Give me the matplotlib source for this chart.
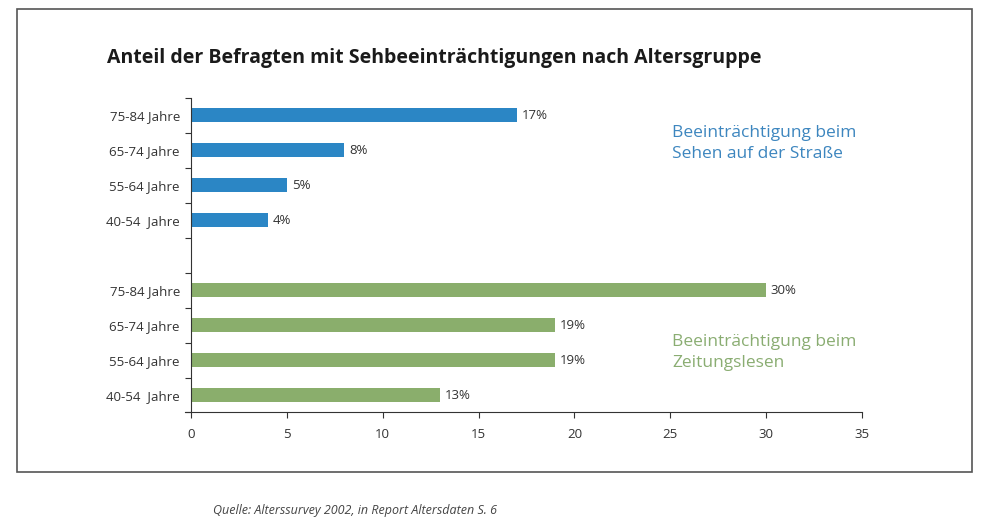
import numpy as np
import matplotlib.pyplot as plt
from matplotlib.patches import Rectangle

plt.rcParams['font.family'] = ['Open Sans', 'DejaVu Sans']

age_groups = ["75-84 Jahre", "65-74 Jahre", "55-64 Jahre", "40-54  Jahre"]
street = [17, 8, 5, 4]        # Beeinträchtigung beim Sehen auf der Straße
newspaper = [30, 19, 19, 13]  # Beeinträchtigung beim Zeitungslesen
x_ticks = [0, 5, 10, 15, 20, 25, 30, 35]

blue = "#2b86c5"
green = "#8aae6c"

fig = plt.figure(figsize=(10, 5.3), dpi=100)
ax = fig.add_axes([0.191, 0.2217, 0.671, 0.5943])

# slots 0-3 blue, 4 empty, 5-8 green
pos_blue = np.arange(4)
pos_green = np.arange(4) + 5
ax.barh(pos_blue, street, height=0.4, color=blue)
ax.barh(pos_green, newspaper, height=0.4, color=green)

for p, v in zip(pos_blue, street):
    ax.text(v + 0.25, p, f"{v}%", va="center", ha="left", fontsize=9.5, color="#333333")
for p, v in zip(pos_green, newspaper):
    ax.text(v + 0.25, p, f"{v}%", va="center", ha="left", fontsize=9.5, color="#333333")

ax.set_xlim(0, 35)
ax.set_ylim(8.5, -0.5)
ax.set_xticks(x_ticks)
ax.set_xticklabels([str(t) for t in x_ticks], fontsize=9.5, color="#333333")
ax.tick_params(axis="x", direction="out", length=4, width=0.8, pad=7, color="#333333")

ax.set_yticks(np.arange(-0.5, 9.0, 1.0))
ax.set_yticklabels([])
ax.tick_params(axis="y", which="major", direction="out", length=4, width=0.8, color="#333333")
ax.set_yticks(list(pos_blue) + list(pos_green), minor=True)
ax.set_yticklabels(age_groups + age_groups, minor=True, fontsize=9.5, color="#333333")
ax.tick_params(axis="y", which="minor", length=0, pad=8)

for s in ["top", "right"]:
    ax.spines[s].set_visible(False)
ax.spines["left"].set_color("#333333")
ax.spines["bottom"].set_color("#333333")
ax.spines["left"].set_linewidth(0.8)
ax.spines["bottom"].set_linewidth(0.8)
ax.spines["bottom"].set_bounds(-0.3, 35)

fig.text(0.107, 0.89, "Anteil der Befragten mit Sehbeeinträchtigungen nach Altersgruppe",
         fontsize=14, fontweight="bold", color="#1a1a1a", va="center")

ax.text(25.1, 0.81, "Beeinträchtigung beim\nSehen auf der Straße", fontsize=12.5,
        color="#3d86bf", va="center", ha="left", linespacing=1.45)
ax.text(25.1, 6.79, "Beeinträchtigung beim\nZeitungslesen", fontsize=12.5,
        color="#8aad72", va="center", ha="left", linespacing=1.45)

fig.text(0.213, 0.036, "Quelle: Alterssurvey 2002, in Report Altersdaten S. 6",
         fontsize=9, style="italic", color="#444444", va="center")

fig.patches.append(Rectangle((0.017, 1 - 472 / 530), 0.955, 463 / 530,
                             transform=fig.transFigure, fill=False,
                             edgecolor="#555555", linewidth=1.2))

fig.savefig("out.png", dpi=100)
